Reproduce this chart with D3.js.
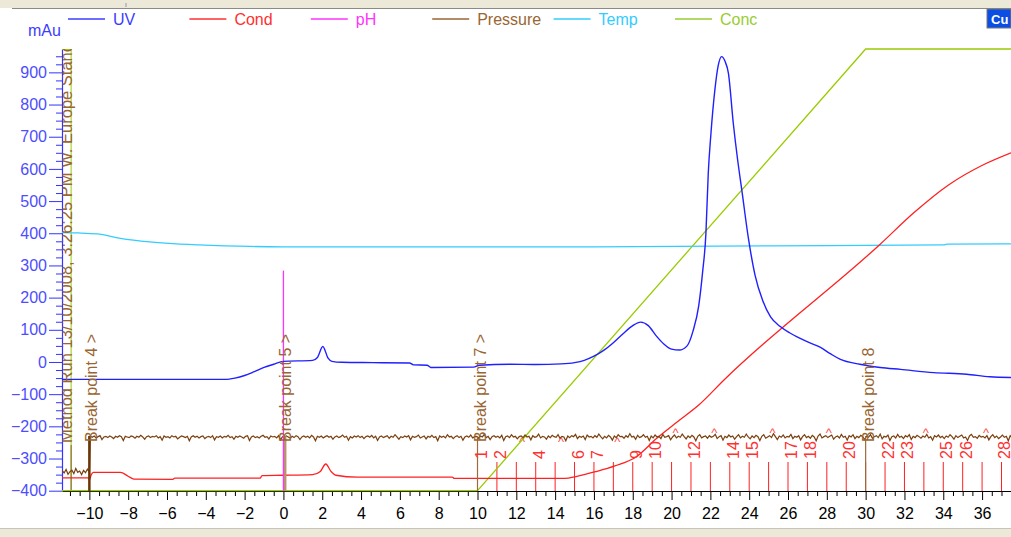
<!DOCTYPE html>
<html><head><meta charset="utf-8">
<script src="https://cdn.jsdelivr.net/npm/d3@7"></script>
<style>
body{margin:0;background:#fff;overflow:hidden;}
svg{display:block;font-family:"Liberation Sans",Arial,sans-serif;}
</style></head><body>
<svg id="c" width="1011" height="537"></svg>
<script>
// ---------- DATA ----------
const seriesNames = ["UV","Cond","pH","Pressure","Temp","Conc"];
const seriesColors = ["#2020ff","#ff2020","#ff33ff","#7a4010","#33ccff","#99cc00"];
const legendTextColors = ["#3c3cff","#ff3030","#ff33ff","#996633","#33ccff","#99cc33"];

const yMajorTicks = [-400,-300,-200,-100,0,100,200,300,400,500,600,700,800,900];
const xMajorTicks = [-10,-8,-6,-4,-2,0,2,4,6,8,10,12,14,16,18,20,22,24,26,28,30,32,34,36,38];

const uvX = [-11.41,-3.0,-2.5,-2.0,-1.5,-1.0,-0.5,0,1.5,1.75,2.03,2.3,2.5,3.0,4.6,6.5,6.7,7.4,7.6,9.8,10.1,11.7,13.0,14.3,15.0,15.5,16.0,16.5,17.0,17.5,18.0,18.4,18.8,19.2,19.6,20.0,20.4,20.8,21.1,21.4,21.6,21.77,21.89,22.03,22.23,22.4,22.58,22.75,22.93,23.18,23.4,23.62,23.96,24.3,24.7,25.1,25.6,26.1,26.6,27.1,27.65,28.2,28.7,29.7,30.75,31.8,33.5,35.2,36.4,37.49];
const uvY = [-54,-54,-50,-42,-30,-17,-7,2,5,14,48,12,2,-1,-2,-3,-9,-10,-17,-16,-10,-7,-8,-6,-2,5,18,36,60,88,113,124,113,82,56,40,37,50,95,175,280,400,586,711,845,920,949,935,897,742,630,534,384,270,190,140,110,90,74,60,46,25,8,-7,-17,-23,-33,-38,-46,-48];

const condX = [-11.41,-10.05,-10.0,-9.9,-9.8,-8.4,-8.0,-7.7,-5.7,-5.6,-1.2,-1.1,0,1.5,1.9,2.18,2.45,2.7,3.8,8.7,8.8,10.0,14.5,15.08,16.08,17.08,18.15,19.24,20.32,21.4,22.7,30.75,32.51,34.27,36.04,37.49];
const condY = [-360,-360,-366,-350,-343,-343,-355,-364,-365,-361,-361,-353,-352,-350,-340,-317,-340,-352,-358,-358,-362,-362,-362,-356,-341,-323,-296,-237,-185,-134,-56,366,465,550,612,650];

const phX = [0.0, 0.0];
const phY = [-400, 284];

const tempX = [-11.41,-10.6,-9.6,-8.4,-6.9,-5.5,-4.3,-3,-1.7,0,16,25,34,34.2,37.49];
const tempY = [402,401,398,384,373,367,364,361,359,358,358,361,364,366,367];

const concX = [-11.41,10.0,30.0,37.49];
const concY = [0,0,100,100];

// pressure before the run (start -11.4, step 0.1) and during the run (start -9.95, step 0.1)
const pressurePreStart = -11.4, pressurePreStep = 0.1;
const pressurePre = [-338,-345,-334,-349,-341,-336,-347,-331,-343,-339,-350,-337,-344,-333,-342];
const pressureStart = -9.95, pressureStep = 0.1;
const pressureVals = [
-231,-234,-230,-236,-232,-229,-241,-233,-231,-235,-230,-233,-238,-231,-234,-229,-232,-244,-231,-233,
-235,-230,-232,-237,-231,-234,-228,-233,-240,-232,-230,-235,-231,-233,-229,-236,-232,-243,-230,-234,
-232,-236,-229,-233,-231,-239,-234,-230,-232,-235,-231,-245,-233,-229,-234,-231,-236,-232,-230,-238,
-233,-231,-235,-229,-242,-232,-234,-230,-236,-231,-233,-228,-235,-232,-240,-231,-234,-230,-233,-237,
-231,-229,-244,-233,-230,-235,-232,-236,-231,-228,-234,-232,-239,-230,-233,-231,-236,-229,-242,-232,
-234,-230,-233,-237,-231,-235,-229,-232,-241,-233,-230,-234,-231,-236,-228,-233,-245,-231,-234,-230,
-236,-232,-229,-234,-231,-240,-233,-230,-235,-232,-227,-234,-231,-243,-232,-236,-230,-233,-229,-235,
-231,-238,-232,-230,-234,-228,-236,-231,-244,-233,-230,-235,-232,-229,-237,-231,-234,-226,-233,-240,
-232,-235,-230,-233,-229,-242,-231,-234,-232,-227,-236,-233,-230,-239,-231,-234,-228,-235,-232,-245,
-230,-234,-231,-236,-226,-233,-231,-238,-232,-229,-235,-231,-243,-233,-230,-234,-227,-236,-232,-231,
-237,-230,-233,-225,-235,-231,-241,-232,-229,-234,-231,-236,-228,-244,-232,-230,-235,-226,-233,-231,
-239,-232,-230,-235,-227,-233,-231,-242,-229,-234,-232,-224,-236,-231,-233,-240,-230,-235,-228,-232,
-234,-226,-237,-231,-233,-245,-230,-235,-229,-232,-225,-238,-231,-234,-230,-241,-227,-233,-231,-236,
-229,-234,-224,-232,-239,-231,-236,-228,-233,-243,-230,-235,-226,-232,-231,-237,-229,-234,-223,-233,
-231,-240,-228,-235,-232,-226,-234,-231,-244,-230,-236,-227,-233,-231,-238,-225,-234,-232,-229,-242,
-233,-227,-236,-231,-234,-224,-232,-239,-230,-235,-228,-233,-245,-231,-226,-236,-232,-230,-237,-229,
-234,-231,-225,-238,-232,-229,-243,-231,-235,-227,-233,-230,-240,-232,-226,-236,-231,-234,-224,-233,
-239,-230,-235,-228,-232,-244,-231,-226,-237,-233,-229,-235,-223,-232,-241,-230,-234,-227,-236,-231,
-233,-225,-238,-231,-234,-229,-242,-232,-226,-235,-231,-237,-228,-233,-245,-230,-224,-236,-232,-229,
-235,-231,-227,-240,-233,-230,-236,-225,-234,-231,-243,-229,-233,-226,-238,-231,-235,-228,-232,-241,
-230,-234,-226,-237,-232,-229,-235,-224,-239,-231,-233,-227,-244,-232,-230,-236,-225,-234,-231,-238,
-229,-233,-226,-241,-231,-235,-228,-232,-237,-230,-234,-225,-236,-232,-243,-229,-233,-227,-235,-231,
-238,-230,-234,-226,-232,-240,-229,-235,-231,-227,-236,-233,-244,-230,-225,-234,-232,-237,-228,-233,
-231,-236,-229,-242,-232,-226,-235,-230,-238,-233,-227,-234,-231,-245,-229,-236];

const fractionNums = [1,2,3,4,5,6,7,8,9,10,11,12,13,14,15,16,17,18,19,20,21,22,23,24,25,26,27,28];
const fractionX    = [10,11,12,13,14,15,16,17,18,19,20,21,22,23,24,25,26,27,28,29,30,31,32,33,34,35,36,37];
const fractionShown= [1,2,4,6,7,9,10,12,14,15,17,18,20,22,23,25,26,28];
const caretX = [12.3,14.3,17.2,20.2,22.2,25.2,28.1,33.1,36.2];
const caretLow = [true,true,true,false,false,false,false,false,false];

const breakX = [-10, 0, 10, 30];
const breakLabels = ["Break point 4 >","Break point 5 >","Break point 7 >","Break point 8"];
const methodRunX = -10.94;
const methodRunText = "Method Run 13/10/2008, 3:26:25 PM W. Europe Standard Time";

// ---------- CHART ----------
const svg = d3.select("#c");
const W = 1011, H = 537;
const x = d3.scaleLinear().domain([-11.41, 37.49]).range([62, 1011]);
const y = d3.scaleLinear().domain([-400, 972.6]).range([490.7, 49]);
const yConc = d3.scaleLinear().domain([0, 100]).range([490.7, 49]);

// window frame
svg.append("rect").attr("x",0).attr("y",0).attr("width",W).attr("height",8).attr("fill","#ece9d8");
svg.append("line").attr("x1",12).attr("x2",W).attr("y1",8.5).attr("y2",8.5).attr("stroke","#8a8a8a");
svg.append("line").attr("x1",126).attr("x2",126).attr("y1",3).attr("y2",7).attr("stroke","#999");
svg.append("rect").attr("x",0).attr("y",529).attr("width",W).attr("height",8).attr("fill","#ece9d8");
svg.append("line").attr("x1",0).attr("x2",W).attr("y1",528.5).attr("y2",528.5).attr("stroke","#c8c4b8");

// "Cu" button
svg.append("rect").attr("x",987).attr("y",9).attr("width",24).attr("height",19).attr("fill","#0a4ee4").attr("stroke","#7a7a7a");
svg.append("text").attr("x",991).attr("y",24).attr("fill","#fff").attr("font-size",13).attr("font-weight","bold").text("Cu");

// legend
seriesNames.forEach((n,i)=>{
  const lx = 68 + i*121.4;
  svg.append("line").attr("x1",lx).attr("x2",lx+37).attr("y1",19).attr("y2",19).attr("stroke",legendTextColors[i]).attr("stroke-width",1.6);
  svg.append("text").attr("x",lx+45).attr("y",25).attr("font-size",16).attr("fill",legendTextColors[i]).text(n);
});
svg.append("text").attr("x",28).attr("y",36).attr("font-size",16).attr("fill","#3c3cff").text("mAu");

// y axis
const yMinor = d3.range(-400, 975, 25).filter(v=>v%100!==0);
const gyMinor = svg.append("g").attr("transform","translate(62,0)")
  .call(d3.axisLeft(y).tickValues(yMinor).tickSize(6).tickFormat("").tickSizeOuter(0));
gyMinor.select(".domain").remove();
gyMinor.selectAll("line").attr("stroke","#3333ff");
const gy = svg.append("g").attr("transform","translate(62,0)")
  .call(d3.axisLeft(y).tickValues(yMajorTicks).tickSize(13).tickPadding(2).tickSizeOuter(0));
gy.select(".domain").attr("stroke","#3333ff").attr("stroke-width",1.2);
gy.selectAll("line").attr("stroke","#3333ff");
gy.selectAll("text").attr("font-size",16).attr("fill","#4d4dff").attr("font-family","Liberation Sans, Arial, sans-serif");

// x axis
const xMinor = d3.range(-11, 38, 0.5).filter(v=>Math.abs(v%2)!==0);
const gxMinor = svg.append("g").attr("transform","translate(0,491)")
  .call(d3.axisBottom(x).tickValues(xMinor).tickSize(5).tickFormat("").tickSizeOuter(0));
gxMinor.select(".domain").remove();
gxMinor.selectAll("line").attr("stroke","#000");
const gx = svg.append("g").attr("transform","translate(0,491)")
  .call(d3.axisBottom(x).tickValues(xMajorTicks).tickSize(9).tickPadding(8).tickSizeOuter(0).tickFormat(d3.format("d")));
gx.select(".domain").attr("stroke","#000");
gx.selectAll("line").attr("stroke","#000");
gx.selectAll("text").attr("font-size",16).attr("fill","#000").attr("font-family","Liberation Sans, Arial, sans-serif");

// clips
svg.append("clipPath").attr("id","plot").append("rect").attr("x",62).attr("y",45).attr("width",W-62).attr("height",447);
svg.append("clipPath").attr("id","mrclip").append("rect").attr("x",62.5).attr("y",49).attr("width",40).attr("height",450);
const plot = svg.append("g").attr("clip-path","url(#plot)");

// method run marker
plot.append("line").attr("x1",62).attr("x2",x(methodRunX)).attr("y1",49.5).attr("y2",49.5).attr("stroke","#99cc00");
plot.append("line").attr("x1",x(methodRunX)).attr("x2",x(methodRunX)).attr("y1",49).attr("y2",491).attr("stroke","#99cc00");
plot.append("line").attr("x1",x(methodRunX)).attr("x2",x(methodRunX)).attr("y1",445).attr("y2",491).attr("stroke","#8b5a2b");
svg.append("g").attr("clip-path","url(#mrclip)")
  .append("text").attr("transform",`translate(${x(methodRunX)+1},443) rotate(-90)`)
  .attr("font-size",16.5).attr("fill","#996633").text(methodRunText);

// fraction marks
const fracColor = "#ff2020";
fractionX.forEach((fx,i)=>{
  plot.append("line").attr("x1",x(fx)).attr("x2",x(fx)).attr("y1",462).attr("y2",491).attr("stroke",fracColor);
  if (fractionShown.includes(fractionNums[i])) {
    svg.append("text").attr("transform",`translate(${x(fx)+9},459) rotate(-90)`)
      .attr("font-size",16).attr("fill","#ff3030").text(fractionNums[i]);
  }
});
caretX.forEach((cx,i)=>{
  plot.append("text").attr("x",x(cx)).attr("y",caretLow[i]?446:437).attr("text-anchor","middle")
    .attr("font-size",13).attr("fill","#ff5050").text("^");
});

// lines
const line = (sx, ys, curve) => d3.line().x(d=>sx(d[0])).y(d=>ys(d[1])).curve(curve||d3.curveLinear);
const zipXY = (a,b)=>a.map((v,i)=>[v,b[i]]);

plot.append("path").datum(zipXY(concX,concY)).attr("fill","none").attr("stroke","#99cc00").attr("stroke-width",1.3)
  .attr("d", line(x,yConc));
plot.append("path").datum(zipXY(tempX,tempY)).attr("fill","none").attr("stroke","#33ccff").attr("stroke-width",1.3)
  .attr("d", line(x,y,d3.curveMonotoneX));
plot.append("path").datum(zipXY(condX,condY)).attr("fill","none").attr("stroke","#ff2020").attr("stroke-width",1.3)
  .attr("d", line(x,y,d3.curveMonotoneX));

const pressData = pressurePre.map((v,i)=>[pressurePreStart+i*pressurePreStep, v])
  .concat(pressureVals.map((v,i)=>[pressureStart+i*pressureStep, v]));
plot.append("path").datum(pressData).attr("fill","none").attr("stroke","#7a4010").attr("stroke-width",1.2)
  .attr("d", line(x,y));

// break points
const bpLineColor = ["#6b3505","#b8956a","#9b6b3c","#9b6b3c"];
const bpWidth = [2.5,3,1.2,1.2];
breakX.forEach((bx,i)=>{
  plot.append("line").attr("x1",x(bx)+(i===1?1.5:0)).attr("x2",x(bx)+(i===1?1.5:0)).attr("y1",436).attr("y2",491)
    .attr("stroke",bpLineColor[i]).attr("stroke-width",bpWidth[i]);
  svg.append("text").attr("transform",`translate(${x(bx)+8},442) rotate(-90)`)
    .attr("font-size",16).attr("fill","#996633").text(breakLabels[i]);
});

plot.append("path").datum(zipXY(phX,phY)).attr("fill","none").attr("stroke","#ff33ff").attr("stroke-width",1.3)
  .attr("d", line(x,y));
plot.append("path").datum(zipXY(uvX,uvY)).attr("fill","none").attr("stroke","#2020ff").attr("stroke-width",1.4)
  .attr("d", line(x,y,d3.curveMonotoneX));
</script>
</body></html>
